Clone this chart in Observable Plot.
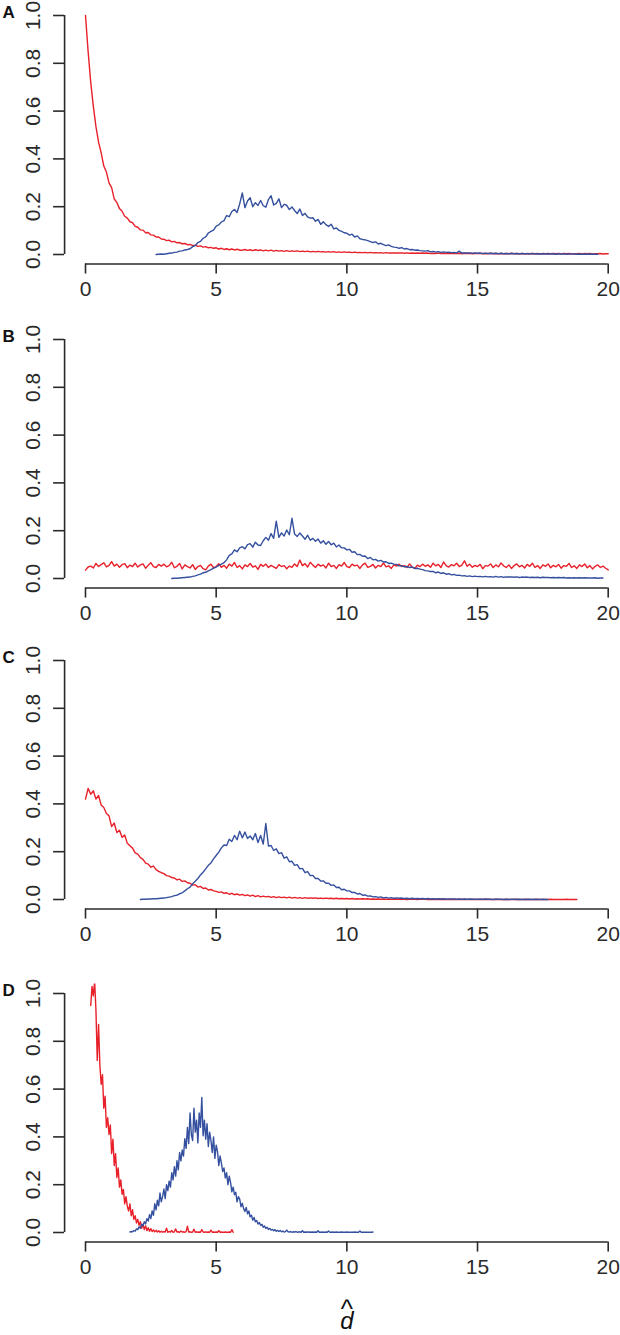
<!DOCTYPE html>
<html><head><meta charset="utf-8">
<script src="https://cdn.jsdelivr.net/npm/d3@7"></script>
<script src="https://cdn.jsdelivr.net/npm/@observablehq/plot@0.6"></script>
<style>
body{margin:0;background:#fff;}
#chart{width:620px;}
#chart svg{display:block;}
</style></head><body><div id="chart"></div>
<script>
// ---- tick labels / axis text ----
const panelLetters = ["A", "B", "C", "D"];
const xTicks = [0, 5, 10, 15, 20];
const yTicks = [0, 0.2, 0.4, 0.6, 0.8, 1.0];
const xLabel = "d";
const xLabelHat = "^";

// ---- series: first x, bin step, values ----
const redA_start = 0, redA_step = 0.1;
const redA = [
1.00,0.85,0.72,0.62,0.535,0.47,0.425,0.37,0.345,0.3,
0.28,0.232,0.218,0.192,0.181,0.16,0.152,0.137,0.133,0.118,
0.114,0.103,0.102,0.091,0.092,0.082,0.081,0.073,0.073,0.065,
0.064,0.058,0.06,0.053,0.055,0.049,0.05,0.045,0.046,0.041,
0.042,0.037,0.039,0.034,0.036,0.031,0.033,0.028,0.03,0.026,
0.028,0.023,0.026,0.021,0.024,0.02,0.023,0.019,0.022,0.018,
0.018,0.021,0.017,0.02,0.016,0.02,0.017,0.019,0.015,0.018,
0.015,0.018,0.014,0.017,0.014,0.016,0.013,0.016,0.013,0.015,
0.013,0.015,0.012,0.014,0.012,0.014,0.011,0.013,0.011,0.013,
0.011,0.012,0.01,0.012,0.01,0.012,0.009,0.011,0.009,0.011,
0.009,0.01,0.008,0.01,0.008,0.009,0.008,0.009,0.007,0.009,
0.007,0.008,0.007,0.008,0.006,0.008,0.006,0.007,0.006,0.007,
0.006,0.007,0.005,0.007,0.005,0.006,0.005,0.006,0.005,0.006,
0.005,0.006,0.004,0.005,0.004,0.006,0.004,0.005,0.004,0.005,
0.004,0.005,0.004,0.005,0.003,0.005,0.004,0.005,0.003,0.004,
0.004,0.005,0.003,0.004,0.003,0.005,0.003,0.004,0.003,0.004,
0.003,0.004,0.003,0.005,0.003,0.004,0.003,0.004,0.002,0.004,
0.003,0.004,0.003,0.004,0.002,0.004,0.003,0.004,0.003,0.004,
0.003,0.004,0.002,0.004,0.003,0.004,0.002,0.003,0.003,0.004,
0.002,0.004,0.003,0.004,0.002,0.003,0.003,0.004,0.002,0.003,
0.003];

const blueA_start = 2.7, blueA_step = 0.1;
const blueA = [
0,0.001,0.002,0.001,0.003,0.005,0.006,0.009,0.01,0.014,
0.015,0.019,0.021,0.024,0.033,0.037,0.05,0.055,0.068,0.074,
0.09,0.097,0.102,0.119,0.124,0.136,0.142,0.163,0.158,0.18,
0.188,0.176,0.212,0.258,0.196,0.224,0.238,0.2,0.217,0.205,
0.226,0.204,0.198,0.23,0.246,0.207,0.214,0.233,0.196,0.21,
0.206,0.188,0.199,0.184,0.171,0.19,0.163,0.172,0.157,0.152,
0.154,0.139,0.147,0.126,0.137,0.125,0.117,0.127,0.107,0.111,
0.101,0.097,0.091,0.089,0.081,0.085,0.073,0.078,0.066,0.063,
0.061,0.058,0.054,0.05,0.053,0.044,0.047,0.041,0.037,0.04,
0.034,0.031,0.03,0.026,0.029,0.023,0.025,0.02,0.021,0.018,
0.019,0.016,0.015,0.014,0.016,0.011,0.013,0.01,0.012,0.009,
0.011,0.009,0.01,0.008,0.009,0.007,0.014,0.006,0.007,0.006,
0.007,0.005,0.007,0.005,0.006,0.004,0.006,0.004,0.005,0.004,
0.005,0.003,0.005,0.003,0.004,0.003,0.004,0.003,0.004,0.002,
0.004,0.003,0.003,0.002,0.004,0.002,0.003,0.002,0.003,0.002,
0.003,0.002,0.003,0.001,0.003,0.002,0.002,0.001,0.002,0.002,
0.002,0.001,0.002,0.001,0.002,0.001,0.002,0.001,0.001,0.001];

const redB_start = 0, redB_step = 0.1;
const redB = [
0.035,0.048,0.052,0.044,0.063,0.05,0.058,0.066,0.049,0.055,
0.071,0.052,0.06,0.047,0.058,0.062,0.045,0.056,0.05,0.064,
0.048,0.057,0.061,0.043,0.055,0.066,0.05,0.046,0.059,0.052,
0.06,0.049,0.054,0.068,0.045,0.051,0.063,0.04,0.057,0.05,
0.044,0.058,0.038,0.05,0.055,0.041,0.036,0.052,0.06,0.045,
0.05,0.062,0.047,0.055,0.043,0.06,0.052,0.067,0.046,0.054,
0.04,0.057,0.05,0.063,0.048,0.053,0.038,0.059,0.051,0.06,
0.046,0.055,0.049,0.042,0.058,0.05,0.054,0.041,0.052,0.047,
0.061,0.05,0.077,0.054,0.062,0.048,0.068,0.056,0.046,0.06,
0.052,0.057,0.044,0.064,0.05,0.055,0.042,0.058,0.052,0.067,
0.05,0.046,0.06,0.053,0.056,0.042,0.057,0.064,0.047,0.051,
0.059,0.044,0.055,0.05,0.065,0.049,0.053,0.042,0.057,0.052,
0.06,0.05,0.054,0.046,0.061,0.048,0.042,0.056,0.05,0.06,
0.051,0.057,0.047,0.064,0.053,0.059,0.046,0.069,0.054,0.048,
0.058,0.053,0.064,0.05,0.056,0.074,0.051,0.06,0.047,0.055,
0.05,0.059,0.041,0.054,0.052,0.061,0.046,0.057,0.049,0.065,
0.053,0.046,0.057,0.042,0.054,0.061,0.049,0.055,0.044,0.059,
0.051,0.064,0.046,0.054,0.042,0.057,0.051,0.061,0.045,0.055,
0.049,0.059,0.043,0.054,0.051,0.063,0.046,0.053,0.042,0.057,
0.05,0.061,0.045,0.054,0.04,0.051,0.057,0.046,0.052,0.043,0.036];

const blueB_start = 3.3, blueB_step = 0.1;
const blueB = [
0,0.001,0.001,0.002,0.003,0.004,0.005,0.006,0.009,0.011,
0.015,0.018,0.024,0.026,0.032,0.037,0.043,0.048,0.055,0.06,
0.066,0.078,0.097,0.103,0.12,0.112,0.128,0.133,0.124,0.142,
0.146,0.131,0.152,0.14,0.138,0.158,0.172,0.16,0.188,0.168,
0.24,0.172,0.191,0.178,0.203,0.183,0.252,0.186,0.176,0.19,
0.178,0.164,0.181,0.16,0.168,0.156,0.165,0.148,0.158,0.143,
0.155,0.141,0.148,0.132,0.14,0.128,0.128,0.12,0.122,0.11,
0.112,0.1,0.101,0.093,0.094,0.083,0.088,0.078,0.08,0.073,
0.076,0.069,0.07,0.063,0.064,0.06,0.059,0.053,0.054,0.049,
0.05,0.046,0.048,0.042,0.043,0.039,0.037,0.033,0.032,0.029,
0.03,0.024,0.027,0.021,0.024,0.018,0.02,0.015,0.017,0.013,
0.014,0.011,0.012,0.009,0.011,0.008,0.01,0.008,0.009,0.007,
0.009,0.007,0.008,0.006,0.009,0.006,0.008,0.005,0.007,0.006,
0.007,0.005,0.007,0.004,0.006,0.005,0.006,0.004,0.005,0.004,
0.005,0.003,0.005,0.004,0.004,0.003,0.004,0.003,0.004,0.003,
0.004,0.002,0.003,0.002,0.003,0.002,0.003,0.002,0.003,0.002,
0.002,0.002,0.003,0.001,0.002,0.002];

const redC_start = 0, redC_step = 0.1;
const redC = [
0.42,0.465,0.44,0.455,0.42,0.435,0.395,0.385,0.36,0.35,
0.305,0.32,0.28,0.29,0.26,0.27,0.235,0.225,0.215,0.195,
0.19,0.175,0.168,0.152,0.148,0.135,0.14,0.125,0.118,0.112,
0.108,0.1,0.098,0.092,0.09,0.082,0.085,0.076,0.078,0.07,
0.068,0.06,0.062,0.052,0.055,0.046,0.048,0.04,0.042,0.036,
0.034,0.03,0.032,0.026,0.028,0.022,0.026,0.02,0.023,0.018,
0.021,0.016,0.019,0.014,0.018,0.012,0.016,0.011,0.014,0.011,
0.013,0.009,0.012,0.008,0.011,0.008,0.01,0.007,0.01,0.006,
0.009,0.006,0.008,0.005,0.008,0.005,0.007,0.005,0.007,0.004,
0.006,0.004,0.006,0.004,0.005,0.003,0.005,0.003,0.004,0.003,
0.004,0.002,0.004,0.002,0.003,0.002,0.003,0.002,0.003,0.001,
0.002,0.001,0.002,0.001,0.002,0.001,0.001,0.001,0.002,0.001,
0.001,0.001,0.001,0,0.001,0.001,0.001,0,0.001,0.001,
0.001,0,0.001,0,0.001,0,0.001,0,0.001,0,
0,0.001,0,0.001,0,0.001,0,0,0.001,0,
0,0.001,0,0,0.001,0,0,0.001,0,0,
0,0.001,0,0,0,0.001,0,0,0,0.001,
0,0,0,0.001,0,0,0,0,0.001,0,
0,0,0,0,0.001,0,0,0,0];

const blueC_start = 2.1, blueC_step = 0.1;
const blueC = [
0,0.001,0.001,0.002,0.002,0.003,0.003,0.004,0.005,0.006,
0.008,0.01,0.012,0.016,0.018,0.024,0.028,0.036,0.045,0.052,
0.066,0.076,0.088,0.103,0.114,0.128,0.143,0.153,0.17,0.184,
0.198,0.216,0.228,0.226,0.252,0.243,0.268,0.25,0.286,0.258,
0.282,0.255,0.266,0.25,0.276,0.238,0.268,0.232,0.318,0.224,
0.226,0.205,0.212,0.192,0.196,0.173,0.178,0.158,0.16,0.143,
0.146,0.128,0.13,0.112,0.117,0.1,0.101,0.088,0.088,0.077,
0.078,0.068,0.068,0.059,0.061,0.05,0.051,0.041,0.043,0.036,
0.036,0.029,0.03,0.023,0.025,0.018,0.019,0.014,0.015,0.011,
0.012,0.009,0.011,0.007,0.009,0.006,0.008,0.005,0.007,0.005,
0.006,0.004,0.005,0.003,0.005,0.003,0.004,0.003,0.004,0.002,
0.004,0.002,0.003,0.002,0.003,0.002,0.003,0.001,0.002,0.002,
0.002,0.001,0.002,0.001,0.002,0.001,0.002,0.001,0.001,0.001,
0.001,0.001,0.002,0.001,0.001,0,0.001,0.001,0.001,0,
0.001,0,0.001,0.001,0,0.001,0,0.001,0,0.001,
0,0.001,0,0,0.001,0,0];

const redD_start = 0.2, redD_step = 0.05;
const redD = [
0.95,1.03,0.99,1.05,0.93,0.72,0.87,0.7,0.62,0.66,
0.52,0.57,0.44,0.48,0.41,0.45,0.33,0.39,0.28,0.33,
0.23,0.27,0.19,0.22,0.16,0.18,0.12,0.15,0.11,0.09,
0.12,0.07,0.095,0.055,0.07,0.04,0.055,0.03,0.045,0.018,
0.035,0.012,0.028,0.008,0.02,0.005,0.016,0.004,0.011,0.003,
0.009,0.002,0.007,0.001,0.005,0.001,0.004,0.002,0.018,0.001,
0.004,0.002,0.008,0.001,0.003,0.015,0.002,0.003,0.001,0.006,
0.002,0.003,0.001,0.004,0.026,0.002,0.003,0.001,0.002,0.014,
0.001,0.003,0.001,0.002,0.001,0.012,0.002,0.001,0.003,0.001,
0.002,0.001,0.01,0.001,0.002,0.001,0.002,0.001,0.008,0.001,
0.002,0.001,0.001,0.002,0.001,0.001,0.002,0.001,0.012,0.001];

const blueD_start = 1.7, blueD_step = 0.05;
const blueD = [
0.002,0.004,0.003,0.008,0.006,0.015,0.012,0.024,0.018,0.035,
0.028,0.045,0.036,0.058,0.048,0.075,0.058,0.09,0.072,0.12,
0.095,0.135,0.112,0.165,0.128,0.15,0.182,0.142,0.2,0.175,
0.215,0.19,0.25,0.22,0.275,0.236,0.3,0.262,0.335,0.3,
0.345,0.32,0.392,0.352,0.44,0.372,0.5,0.41,0.385,0.52,
0.42,0.47,0.375,0.5,0.44,0.565,0.405,0.47,0.39,0.455,
0.36,0.42,0.385,0.335,0.4,0.31,0.365,0.34,0.28,0.32,
0.29,0.255,0.27,0.228,0.25,0.2,0.236,0.21,0.17,0.19,
0.158,0.168,0.128,0.15,0.14,0.108,0.122,0.1,0.088,0.105,
0.078,0.09,0.066,0.072,0.052,0.063,0.045,0.05,0.035,0.042,
0.03,0.034,0.022,0.027,0.017,0.022,0.013,0.017,0.01,0.013,
0.007,0.012,0.005,0.009,0.004,0.008,0.003,0.006,0.002,0.004,
0.01,0.003,0.002,0.004,0.001,0.003,0.002,0.004,0.001,0.002,
0.003,0.001,0.008,0.001,0.002,0.001,0.003,0.001,0.002,0.001,
0.002,0.001,0.002,0.001,0.007,0.001,0.001,0.002,0.001,0.001,
0.002,0.001,0.006,0.001,0.001,0.002,0.001,0.001,0.002,0.001,
0.001,0.001,0.002,0.001,0.001,0.001,0.002,0.001,0.001,0.001,
0.001,0.001,0.002,0.001,0.001,0.001,0.006,0.001,0.001,0.001,
0.001,0.001,0.001,0.001,0.001,0.001,0.002];

// ---- build tables for the library ----
function toRows(start, step, values) {
  return values.map((v, i) => ({x: Math.round((start + i * step) * 1000) / 1000, y: v}));
}
const panels = [
  {letter: panelLetters[0], red: toRows(redA_start, redA_step, redA), blue: toRows(blueA_start, blueA_step, blueA), height: 322, y1: 15},
  {letter: panelLetters[1], red: toRows(redB_start, redB_step, redB), blue: toRows(blueB_start, blueB_step, blueB), height: 320, y1: 17},
  {letter: panelLetters[2], red: toRows(redC_start, redC_step, redC), blue: toRows(blueC_start, blueC_step, blueC), height: 320, y1: 18},
  {letter: panelLetters[3], red: toRows(redD_start, redD_step, redD), blue: toRows(blueD_start, blueD_step, blueD), height: 373, y1: 31, xlab: true}
];

// ---- styling / layout ----
const RED = "#e8202a", BLUE = "#34509f", AXIS = "#2a2a2a";
const FONT = "'Liberation Sans', Arial, Helvetica, sans-serif";
const xDomain = [-0.8, 20.8];        // R-style 4% extension of 0..20
const yDomain = [-0.04, 1.04];       // R-style 4% extension of 0..1
const x0px = 85, x20px = 607.7, yUnit = 239;
const pxPerX = (x20px - x0px) / 20;

function panel(p) {
  const top = p.y1 - (yDomain[1] - 1) * yUnit;
  const bottom = p.y1 + (1 - yDomain[0]) * yUnit;
  const left = x0px + xDomain[0] * pxPerX;
  const right = x0px + xDomain[1] * pxPerX;
  const marks = [
    Plot.ruleX([xDomain[0]], {y1: yTicks[0], y2: yTicks[yTicks.length - 1], stroke: AXIS, strokeWidth: 1.6}),
    Plot.ruleY([yDomain[0]], {x1: xTicks[0], x2: xTicks[xTicks.length - 1], stroke: AXIS, strokeWidth: 1.6}),
    Plot.axisX({ticks: xTicks, tickSize: 10, tickPadding: 7, fontSize: 21, label: null, strokeWidth: 1.6, tickFormat: d => String(d)}),
    Plot.axisY({ticks: yTicks, tickSize: 11, label: null, strokeWidth: 1.6, tickFormat: () => ""}),
    Plot.text(yTicks, {y: d => d, text: d => d.toFixed(1), frameAnchor: "left", dx: -25, rotate: -90,
      textAnchor: "middle", lineAnchor: "bottom", fontSize: 21, fill: AXIS}),
    Plot.line(p.red, {x: "x", y: "y", stroke: RED, strokeWidth: 1.4, clip: true}),
    Plot.line(p.blue, {x: "x", y: "y", stroke: BLUE, strokeWidth: 1.4, clip: true}),
    Plot.text([p.letter], {frameAnchor: "top-left", dx: 2 - left, dy: 0, text: d => d, fontWeight: "bold",
      fontSize: 17, textAnchor: "start", lineAnchor: "top", fill: "#111"})
  ];
  if (p.xlab) {
    const mid = (xDomain[0] + xDomain[1]) / 2;
    marks.push(Plot.text([xLabel], {x: () => mid, frameAnchor: "bottom", text: d => d, dy: 87, fontSize: 24,
      fontStyle: "italic", lineAnchor: "bottom", fill: "#111"}));
    marks.push(Plot.text([xLabelHat], {x: () => mid, frameAnchor: "bottom", text: d => d, dy: 76, fontSize: 26,
      lineAnchor: "bottom", fill: "#111"}));
  }
  return Plot.plot({
    width: 620, height: p.height,
    marginLeft: left, marginRight: 0, marginTop: top, marginBottom: p.height - bottom,
    x: {domain: xDomain, range: [left, right]},
    y: {domain: yDomain, range: [bottom, top]},
    style: {fontFamily: FONT, fontSize: "21px", color: AXIS, background: "#fff", overflow: "visible"},
    marks
  });
}

const host = document.getElementById("chart");
for (const p of panels) host.appendChild(panel(p));
</script>
</body></html>
